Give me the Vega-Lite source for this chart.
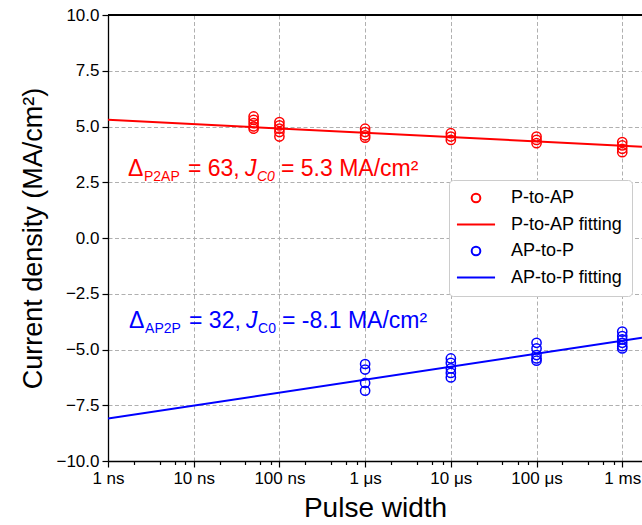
{
  "$schema": "https://vega.github.io/schema/vega-lite/v6.json",
  "width": 534,
  "height": 446,
  "autosize": {"type": "none"},
  "padding": {"left": 108, "top": 15, "right": 0, "bottom": 64},
  "config": {
    "font": "Liberation Sans",
    "view": {"stroke": null},
    "axis": {
      "domainColor": "#000000",
      "domainWidth": 1.3,
      "tickColor": "#000000",
      "tickWidth": 1.2,
      "labelColor": "#000000",
      "titleColor": "#000000",
      "labelFont": "Liberation Sans",
      "titleFont": "Liberation Sans",
      "titleFontWeight": "normal",
      "gridColor": "#b0b0b0",
      "gridDash": [4, 2.5],
      "gridWidth": 1
    },
    "legend": {
      "labelFont": "Liberation Sans",
      "orient": "none",
      "legendX": 341,
      "legendY": 165,
      "labelFontSize": 18,
      "labelColor": "#000000",
      "symbolStrokeWidth": 2,
      "symbolSize": 75,
      "symbolOffset": 9,
      "labelOffset": 26,
      "rowPadding": 8.5,
      "padding": 9,
      "strokeColor": "#cccccc",
      "fillColor": "#ffffff",
      "cornerRadius": 4
    }
  },
  "datasets": {
    "pts": [
      {"t": 50, "j": 5.45, "series": "P-to-AP"},
      {"t": 50, "j": 5.3, "series": "P-to-AP"},
      {"t": 50, "j": 5.15, "series": "P-to-AP"},
      {"t": 50, "j": 5.0, "series": "P-to-AP"},
      {"t": 50, "j": 4.9, "series": "P-to-AP"},
      {"t": 100, "j": 5.2, "series": "P-to-AP"},
      {"t": 100, "j": 5.05, "series": "P-to-AP"},
      {"t": 100, "j": 4.9, "series": "P-to-AP"},
      {"t": 100, "j": 4.75, "series": "P-to-AP"},
      {"t": 100, "j": 4.55, "series": "P-to-AP"},
      {"t": 1000, "j": 4.9, "series": "P-to-AP"},
      {"t": 1000, "j": 4.75, "series": "P-to-AP"},
      {"t": 1000, "j": 4.6, "series": "P-to-AP"},
      {"t": 1000, "j": 4.5, "series": "P-to-AP"},
      {"t": 10000, "j": 4.7, "series": "P-to-AP"},
      {"t": 10000, "j": 4.55, "series": "P-to-AP"},
      {"t": 10000, "j": 4.4, "series": "P-to-AP"},
      {"t": 100000, "j": 4.55, "series": "P-to-AP"},
      {"t": 100000, "j": 4.4, "series": "P-to-AP"},
      {"t": 100000, "j": 4.25, "series": "P-to-AP"},
      {"t": 1000000, "j": 4.3, "series": "P-to-AP"},
      {"t": 1000000, "j": 4.15, "series": "P-to-AP"},
      {"t": 1000000, "j": 4.0, "series": "P-to-AP"},
      {"t": 1000000, "j": 3.85, "series": "P-to-AP"},
      {"t": 1000, "j": -5.65, "series": "AP-to-P"},
      {"t": 1000, "j": -5.9, "series": "AP-to-P"},
      {"t": 1000, "j": -6.5, "series": "AP-to-P"},
      {"t": 1000, "j": -6.85, "series": "AP-to-P"},
      {"t": 10000, "j": -5.4, "series": "AP-to-P"},
      {"t": 10000, "j": -5.6, "series": "AP-to-P"},
      {"t": 10000, "j": -5.85, "series": "AP-to-P"},
      {"t": 10000, "j": -6.05, "series": "AP-to-P"},
      {"t": 10000, "j": -6.25, "series": "AP-to-P"},
      {"t": 100000, "j": -4.7, "series": "AP-to-P"},
      {"t": 100000, "j": -4.95, "series": "AP-to-P"},
      {"t": 100000, "j": -5.25, "series": "AP-to-P"},
      {"t": 100000, "j": -5.4, "series": "AP-to-P"},
      {"t": 100000, "j": -5.5, "series": "AP-to-P"},
      {"t": 1000000, "j": -4.2, "series": "AP-to-P"},
      {"t": 1000000, "j": -4.4, "series": "AP-to-P"},
      {"t": 1000000, "j": -4.55, "series": "AP-to-P"},
      {"t": 1000000, "j": -4.7, "series": "AP-to-P"},
      {"t": 1000000, "j": -4.85, "series": "AP-to-P"},
      {"t": 1000000, "j": -4.95, "series": "AP-to-P"}
    ],
    "fit": [
      {"t": 1, "j": 5.3, "series": "P-to-AP fitting"},
      {"t": 1700000, "j": 4.09, "series": "P-to-AP fitting"},
      {"t": 1, "j": -8.1, "series": "AP-to-P fitting"},
      {"t": 1700000, "j": -4.47, "series": "AP-to-P fitting"}
    ],
    "ann": [
      {"key": "red", "t": 1.71, "j": 2.8, "c": "#ff0000", "s1": "Δ", "s2": "P2AP", "s3": "= 63,", "s4": "J", "s5": "C0", "s6": "= 5.3 MA/cm²"},
      {"key": "blue", "t": 1.76, "j": -4.04, "c": "#0000ff", "s1": "Δ", "s2": "AP2P", "s3": "= 32,", "s4": "J", "s5": "C0", "s6": "= -8.1 MA/cm²"}
    ]
  },
  "layer": [
    {
      "data": {"name": "fit"},
      "mark": {"type": "line", "strokeWidth": 2, "clip": true},
      "encoding": {
        "x": {
          "field": "t", "type": "quantitative",
          "scale": {"type": "log", "domain": [1, 1700000], "nice": false},
          "axis": {
            "orient": "bottom",
            "title": "Pulse width",
            "titleFontSize": 28,
            "titlePadding": 8,
            "values": [1,2,4,6,8,10,20,40,60,80,100,200,400,600,800,1000,2000,4000,6000,8000,10000,20000,40000,60000,80000,100000,200000,400000,600000,800000,1000000],
            "labelExpr": "datum.value == 1 ? '1 ns' : datum.value == 10 ? '10 ns' : datum.value == 100 ? '100 ns' : datum.value == 1000 ? '1 μs' : datum.value == 10000 ? '10 μs' : datum.value == 100000 ? '100 μs' : datum.value == 1000000 ? '1 ms' : ''",
            "labelFontSize": 17,
            "labelOverlap": false,
            "labelFlush": false,
            "labelPadding": 3,
            "tickSize": {"condition": {"test": "indexof([1,10,100,1000,10000,100000,1000000], datum.value) >= 0", "value": 6}, "value": 3.5},
            "gridOpacity": {"condition": {"test": "indexof([1,10,100,1000,10000,100000,1000000], datum.value) >= 0", "value": 1}, "value": 0},
            "grid": true
          }
        },
        "y": {
          "field": "j", "type": "quantitative",
          "scale": {"domain": [-10, 10], "nice": false},
          "axis": {
            "title": "Current density (MA/cm²)",
            "titleFontSize": 27,
            "titlePadding": 8,
            "values": [-10, -7.5, -5, -2.5, 0, 2.5, 5, 7.5, 10],
            "format": ".1f",
            "labelFontSize": 17,
            "tickSize": 6,
            "labelPadding": 3,
            "grid": true
          }
        },
        "color": {
          "field": "series", "type": "nominal",
          "scale": {"domain": ["P-to-AP", "P-to-AP fitting", "AP-to-P", "AP-to-P fitting"], "range": ["#ff0000", "#ff0000", "#0000ff", "#0000ff"]},
          "legend": {"title": null}
        },
        "detail": {"field": "series"}
      }
    },
    {
      "data": {"name": "fit"},
      "mark": {"type": "rule", "color": "#000000", "strokeWidth": 1.3},
      "encoding": {"y": {"datum": 10}}
    },
    {
      "data": {"name": "pts"},
      "mark": {"type": "point", "filled": false, "strokeWidth": 1.5, "size": 85, "opacity": 1},
      "encoding": {
        "x": {"field": "t", "type": "quantitative"},
        "y": {"field": "j", "type": "quantitative"},
        "color": {"field": "series", "type": "nominal", "legend": {"title": null}},
        "shape": {
          "field": "series", "type": "nominal",
          "scale": {"domain": ["P-to-AP", "P-to-AP fitting", "AP-to-P", "AP-to-P fitting"], "range": ["circle", "M-4.4,0H4.4", "circle", "M-4.4,0H4.4"]},
          "legend": {"title": null}
        }
      }
    },
    {
      "data": {"name": "ann"},
      "mark": {"type": "text", "align": "left", "baseline": "alphabetic", "fontSize": 23, "dx": 0},
      "encoding": {
        "x": {"field": "t", "type": "quantitative"},
        "y": {"field": "j", "type": "quantitative"},
        "text": {"field": "s1"},
        "color": {"field": "c", "type": "nominal", "scale": null}
      }
    },
    {
      "data": {"name": "ann"},
      "mark": {"type": "text", "align": "left", "baseline": "alphabetic", "fontSize": 14, "dx": 16, "dy": 5},
      "encoding": {
        "x": {"field": "t", "type": "quantitative"},
        "y": {"field": "j", "type": "quantitative"},
        "text": {"field": "s2"},
        "color": {"field": "c", "type": "nominal", "scale": null}
      }
    },
    {
      "data": {"name": "ann"},
      "mark": {"type": "text", "align": "left", "baseline": "alphabetic", "fontSize": 23, "dx": 60},
      "encoding": {
        "x": {"field": "t", "type": "quantitative"},
        "y": {"field": "j", "type": "quantitative"},
        "text": {"field": "s3"},
        "color": {"field": "c", "type": "nominal", "scale": null}
      }
    },
    {
      "data": {"name": "ann"},
      "mark": {"type": "text", "align": "left", "baseline": "alphabetic", "fontSize": 23, "fontStyle": "italic", "dx": 117},
      "encoding": {
        "x": {"field": "t", "type": "quantitative"},
        "y": {"field": "j", "type": "quantitative"},
        "text": {"field": "s4"},
        "color": {"field": "c", "type": "nominal", "scale": null}
      }
    },
    {
      "data": {"name": "ann"},
      "transform": [{"filter": "datum.key == 'red'"}],
      "mark": {"type": "text", "align": "left", "baseline": "alphabetic", "fontSize": 14, "fontStyle": "italic", "dx": 129, "dy": 5},
      "encoding": {
        "x": {"field": "t", "type": "quantitative"},
        "y": {"field": "j", "type": "quantitative"},
        "text": {"field": "s5"},
        "color": {"field": "c", "type": "nominal", "scale": null}
      }
    },
    {
      "data": {"name": "ann"},
      "transform": [{"filter": "datum.key == 'blue'"}],
      "mark": {"type": "text", "align": "left", "baseline": "alphabetic", "fontSize": 14, "dx": 129, "dy": 5},
      "encoding": {
        "x": {"field": "t", "type": "quantitative"},
        "y": {"field": "j", "type": "quantitative"},
        "text": {"field": "s5"},
        "color": {"field": "c", "type": "nominal", "scale": null}
      }
    },
    {
      "data": {"name": "ann"},
      "mark": {"type": "text", "align": "left", "baseline": "alphabetic", "fontSize": 23, "dx": 153},
      "encoding": {
        "x": {"field": "t", "type": "quantitative"},
        "y": {"field": "j", "type": "quantitative"},
        "text": {"field": "s6"},
        "color": {"field": "c", "type": "nominal", "scale": null}
      }
    }
  ]
}
